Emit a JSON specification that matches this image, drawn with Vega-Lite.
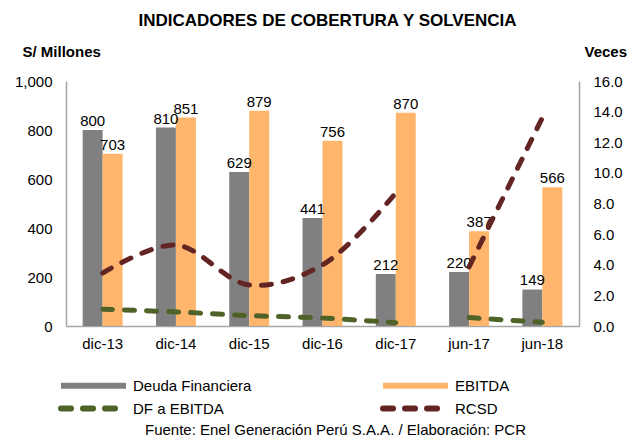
{
  "$schema": "https://vega.github.io/schema/vega-lite/v6.json",
  "width": 513,
  "height": 245,
  "autosize": "none",
  "padding": {"left": 66, "top": 81, "right": 56, "bottom": 111},
  "background": "white",
  "config": {
    "view": {"stroke": null},
    "font": "Liberation Sans",
    "axis": {"grid": false, "ticks": false, "domainColor": "#A6A6A6", "domainWidth": 1.5, "labelColor": "black", "labelFont": "Liberation Sans", "labelFontSize": 15, "titleFont": "Liberation Sans", "titleColor": "black"}
  },
  "title": {
    "text": "INDICADORES DE COBERTURA Y SOLVENCIA",
    "font": "Liberation Sans",
    "fontSize": 17,
    "fontWeight": "bold",
    "color": "black",
    "anchor": "middle",
    "offset": 14,
    "dx": 5
  },
  "datasets": {
    "barras": [
      {"periodo": "dic-13", "serie": "Deuda Financiera", "valor": 800},
      {"periodo": "dic-13", "serie": "EBITDA", "valor": 703},
      {"periodo": "dic-14", "serie": "Deuda Financiera", "valor": 810},
      {"periodo": "dic-14", "serie": "EBITDA", "valor": 851},
      {"periodo": "dic-15", "serie": "Deuda Financiera", "valor": 629},
      {"periodo": "dic-15", "serie": "EBITDA", "valor": 879},
      {"periodo": "dic-16", "serie": "Deuda Financiera", "valor": 441},
      {"periodo": "dic-16", "serie": "EBITDA", "valor": 756},
      {"periodo": "dic-17", "serie": "Deuda Financiera", "valor": 212},
      {"periodo": "dic-17", "serie": "EBITDA", "valor": 870},
      {"periodo": "jun-17", "serie": "Deuda Financiera", "valor": 220},
      {"periodo": "jun-17", "serie": "EBITDA", "valor": 387},
      {"periodo": "jun-18", "serie": "Deuda Financiera", "valor": 149},
      {"periodo": "jun-18", "serie": "EBITDA", "valor": 566}
    ],
    "lineas": [
      {"periodo": "dic-13", "serie": "DF a EBITDA", "tramo": "anual", "valor": 1.1},
      {"periodo": "dic-14", "serie": "DF a EBITDA", "tramo": "anual", "valor": 0.92},
      {"periodo": "dic-15", "serie": "DF a EBITDA", "tramo": "anual", "valor": 0.68},
      {"periodo": "dic-16", "serie": "DF a EBITDA", "tramo": "anual", "valor": 0.52},
      {"periodo": "dic-17", "serie": "DF a EBITDA", "tramo": "anual", "valor": 0.22},
      {"periodo": "jun-17", "serie": "DF a EBITDA", "tramo": "semestral", "valor": 0.55},
      {"periodo": "jun-18", "serie": "DF a EBITDA", "tramo": "semestral", "valor": 0.24},
      {"periodo": "dic-13", "serie": "RCSD", "tramo": "anual", "valor": 3.46},
      {"periodo": "dic-14", "serie": "RCSD", "tramo": "anual", "valor": 5.29},
      {"periodo": "dic-15", "serie": "RCSD", "tramo": "anual", "valor": 2.68},
      {"periodo": "dic-16", "serie": "RCSD", "tramo": "anual", "valor": 3.99},
      {"periodo": "dic-17", "serie": "RCSD", "tramo": "anual", "valor": 8.69},
      {"periodo": "jun-17", "serie": "RCSD", "tramo": "semestral", "valor": 3.86},
      {"periodo": "jun-18", "serie": "RCSD", "tramo": "semestral", "valor": 13.6}
    ]
  },
  "encoding": {
    "x": {
      "field": "periodo",
      "type": "nominal",
      "sort": ["dic-13", "dic-14", "dic-15", "dic-16", "dic-17", "jun-17", "jun-18"],
      "scale": {"paddingInner": 0.455, "paddingOuter": 0.2275},
      "axis": {
        "labelAngle": 0,
        "labelPadding": 10,
        "title": "Fuente: Enel Generación Perú S.A.A. / Elaboración: PCR",
        "titleFontSize": 15,
        "titleFontWeight": "normal",
        "titleX": 269,
        "titleY": 103,
        "titleAlign": "center",
        "titleBaseline": "middle"
      }
    },
    "color": {
      "field": "serie",
      "type": "nominal",
      "scale": {
        "domain": ["Deuda Financiera", "EBITDA", "DF a EBITDA", "RCSD"],
        "range": ["#808080", "#FFB66C", "#4F6228", "#632523"]
      },
      "legend": {
        "title": null,
        "orient": "none",
        "legendX": 17,
        "legendY": 294,
        "columns": 2,
        "direction": "horizontal",
        "padding": 0,
        "columnPadding": 119,
        "rowPadding": -7,
        "symbolType": "M-4.33,0H4.33",
        "symbolSize": 225,
        "symbolStrokeWidth": 6,
        "labelFont": "Liberation Sans",
        "labelFontSize": 15,
        "labelColor": "black",
        "labelOffset": 29,
        "labelLimit": 300,
        "encode": {
          "symbols": {
            "update": {
              "fill": {"value": "transparent"},
              "stroke": {"signal": "scale('color', datum.value)"},
              "strokeDash": {"signal": "(datum.value == 'DF a EBITDA' || datum.value == 'RCSD') ? [10, 12] : [1, 0]"},
              "strokeCap": {"signal": "(datum.value == 'DF a EBITDA' || datum.value == 'RCSD') ? 'round' : 'butt'"},
              "opacity": {"value": 1}
            }
          }
        }
      }
    }
  },
  "layer": [
    {
      "data": {"name": "barras"},
      "encoding": {
        "xOffset": {"field": "serie", "type": "nominal", "sort": ["Deuda Financiera", "EBITDA"]},
        "y": {
          "field": "valor",
          "type": "quantitative",
          "scale": {"domain": [0, 1000]},
          "axis": {
            "values": [0, 200, 400, 600, 800, 1000],
            "format": ",.0f",
            "labelPadding": 14,
            "title": "S/ Millones",
            "titleAngle": 0,
            "titleX": -44,
            "titleY": -30,
            "titleAlign": "left",
            "titleBaseline": "middle",
            "titleFontSize": 15,
            "titleFontWeight": "bold"
          }
        }
      },
      "layer": [
        {"mark": {"type": "bar"}},
        {
          "mark": {"type": "text", "dy": -9, "fontSize": 15, "font": "Liberation Sans", "color": "black"},
          "encoding": {"text": {"field": "valor", "type": "quantitative"}, "color": {"value": "black"}}
        }
      ]
    },
    {
      "data": {"name": "lineas"},
      "mark": {"type": "line", "interpolate": "catmull-rom", "strokeWidth": 5, "strokeDash": [10, 12], "strokeCap": "round"},
      "encoding": {
        "y": {
          "field": "valor",
          "type": "quantitative",
          "scale": {"domain": [0, 16]},
          "axis": {
            "orient": "right",
            "values": [0, 2, 4, 6, 8, 10, 12, 14, 16],
            "format": ".1f",
            "labelPadding": 14,
            "title": "Veces",
            "titleAngle": 0,
            "titleX": 5,
            "titleY": -30,
            "titleAlign": "left",
            "titleBaseline": "middle",
            "titleFontSize": 15,
            "titleFontWeight": "bold"
          }
        },
        "detail": {"field": "tramo", "type": "nominal"}
      }
    }
  ],
  "resolve": {"scale": {"y": "independent"}}
}
